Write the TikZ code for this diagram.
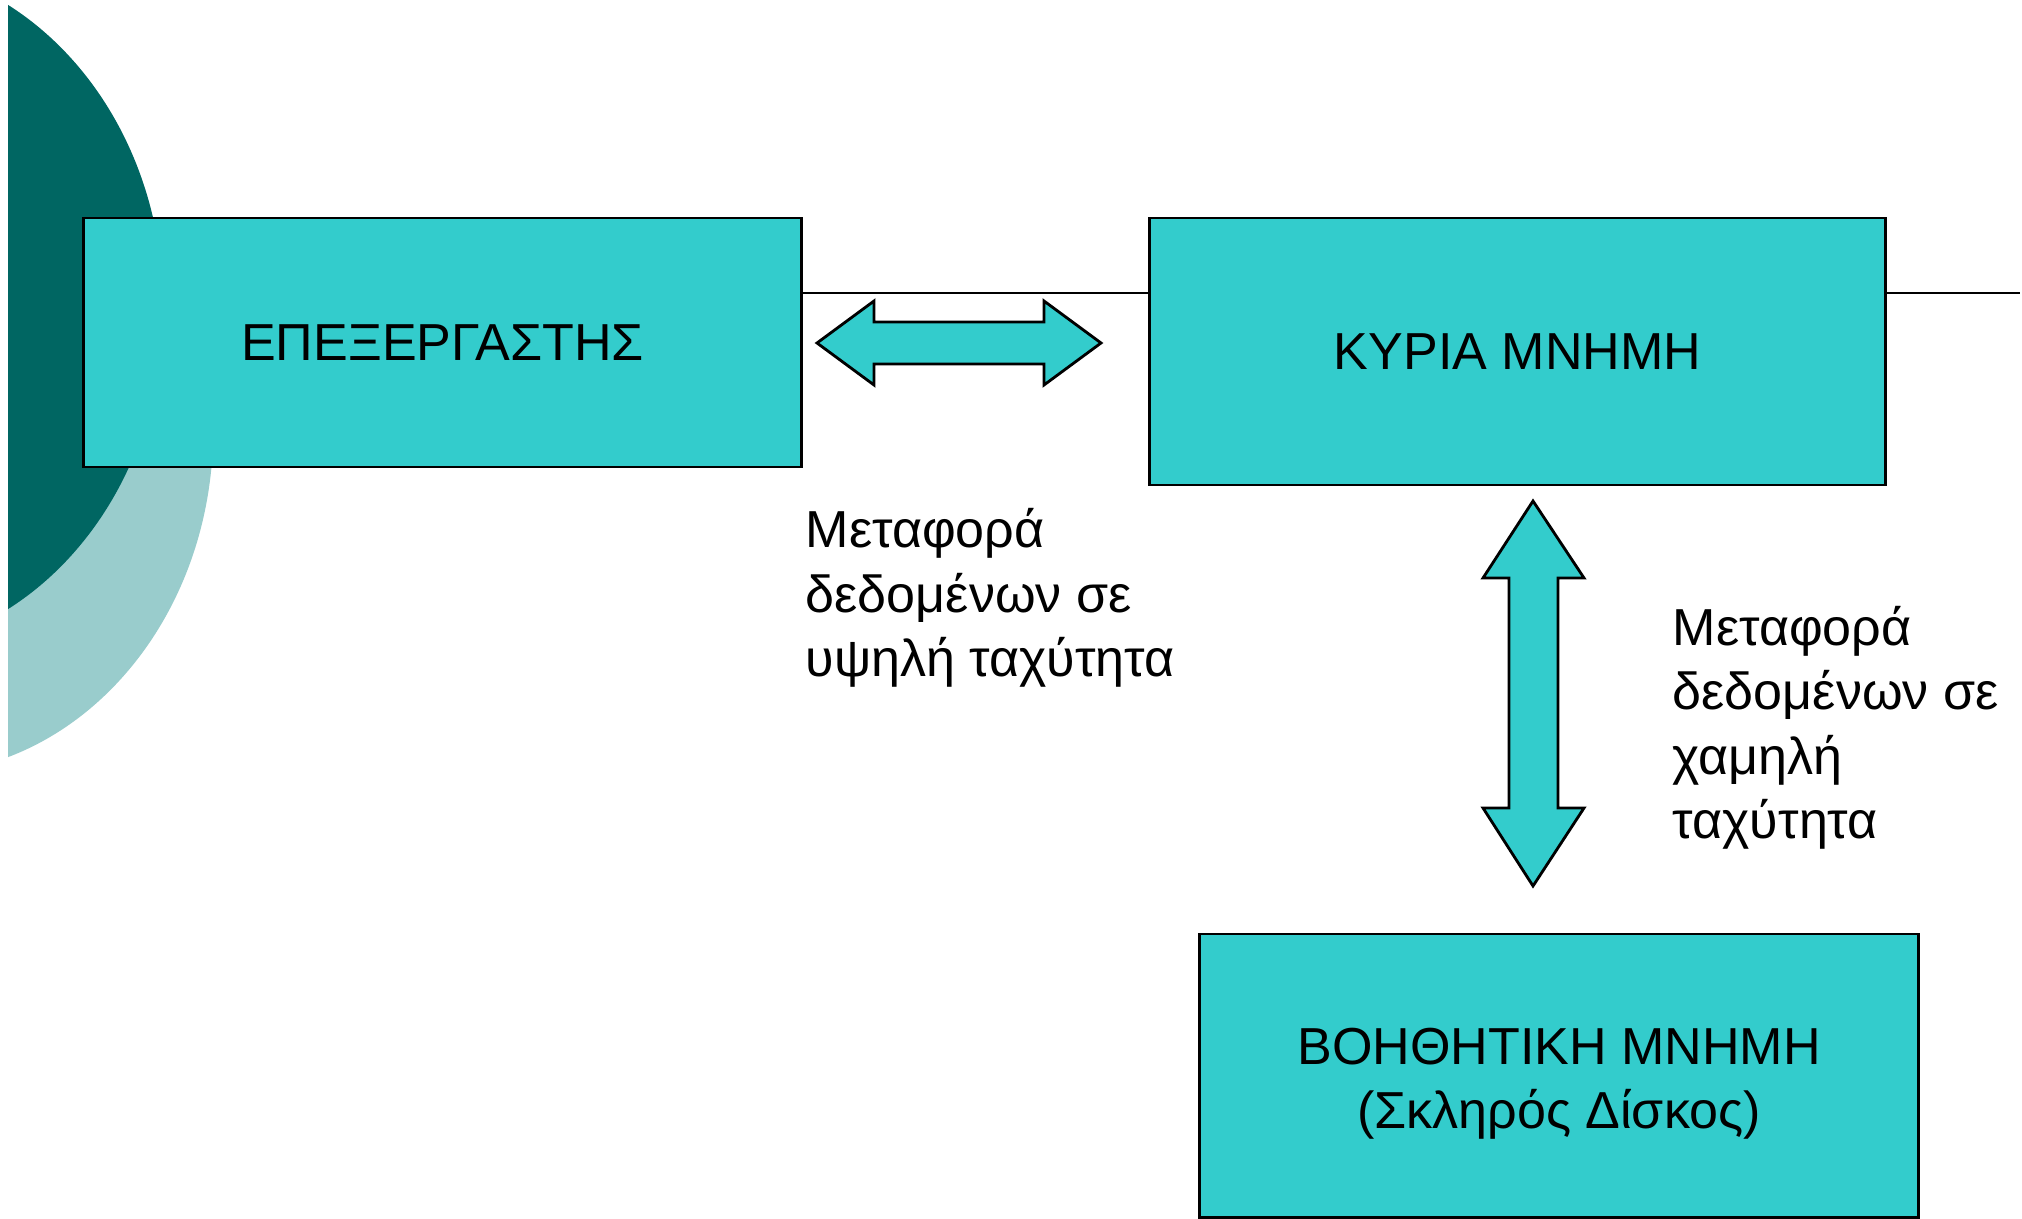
\documentclass[tikz,border=0pt]{standalone}
\usepackage{fontspec}
\setmainfont{Liberation Sans}
\definecolor{boxfill}{HTML}{33CCCC}
\definecolor{darkteal}{HTML}{006662}
\definecolor{lightteal}{HTML}{99CCCC}
\newcommand\mytext{\fontsize{14.8}{18.2}\selectfont}
\begin{document}
\begin{tikzpicture}[x=0.01cm,y=-0.01cm,
  box/.style={draw=black, line width=0.8pt, fill=boxfill, inner sep=0pt, font=\mytext, align=center},
  bus/.style={draw=black, line width=0.8pt},
  blockarrow/.style={draw=black, line width=0.8pt, fill=boxfill, line join=miter},
  lbl/.style={anchor=base west, inner sep=0pt, align=left, font=\mytext}]
\useasboundingbox[fill=white] (0,0) rectangle (2022,1219);
\begin{scope}
  \clip (8,0) rectangle (2022,1219);
  \fill[lightteal] (-85,430) ellipse [x radius=2.98cm, y radius=3.44cm];
  \fill[darkteal] (-135,307) ellipse [x radius=2.98cm, y radius=3.44cm];
\end{scope}
\coordinate (bus) at (0,293);
\coordinate (busend) at (2020,293);
\node[box, minimum width=7.17cm, minimum height=2.49cm] (cpu) at (442.5,342.5) {ΕΠΕΞΕΡΓΑΣΤΗΣ};
\node[box, minimum width=7.35cm, minimum height=2.67cm] (ram) at (1517.5,351.5) {ΚΥΡΙΑ ΜΝΗΜΗ};
\node[box, minimum width=7.18cm, minimum height=2.83cm, text height=1.16cm, text depth=0.11cm] (disk) at (1559,1075.5) {ΒΟΗΘΗΤΙΚΗ ΜΝΗΜΗ\\(Σκληρός Δίσκος)};
\draw[bus] (cpu.east |- bus) -- (ram.west |- bus);
\draw[bus] (ram.east |- bus) -- (busend);
\draw[blockarrow] (817,343) -- (874,301) -- (874,322) -- (1044,322) -- (1044,301) -- (1101,343)
  -- (1044,385) -- (1044,364) -- (874,364) -- (874,385) -- cycle;
\draw[blockarrow] (1533,501) -- (1584,578) -- (1558,578) -- (1558,808) -- (1584,808) -- (1533,886)
  -- (1483,808) -- (1509,808) -- (1509,578) -- (1483,578) -- cycle;
\node[lbl] (fast) at (805,676) {Μεταφορά\\δεδομένων σε\\υψηλή ταχύτητα};
\node[lbl] (slow) at (1672,838) {Μεταφορά\\δεδομένων σε\\χαμηλή\\ταχύτητα};
\end{tikzpicture}
\end{document}
